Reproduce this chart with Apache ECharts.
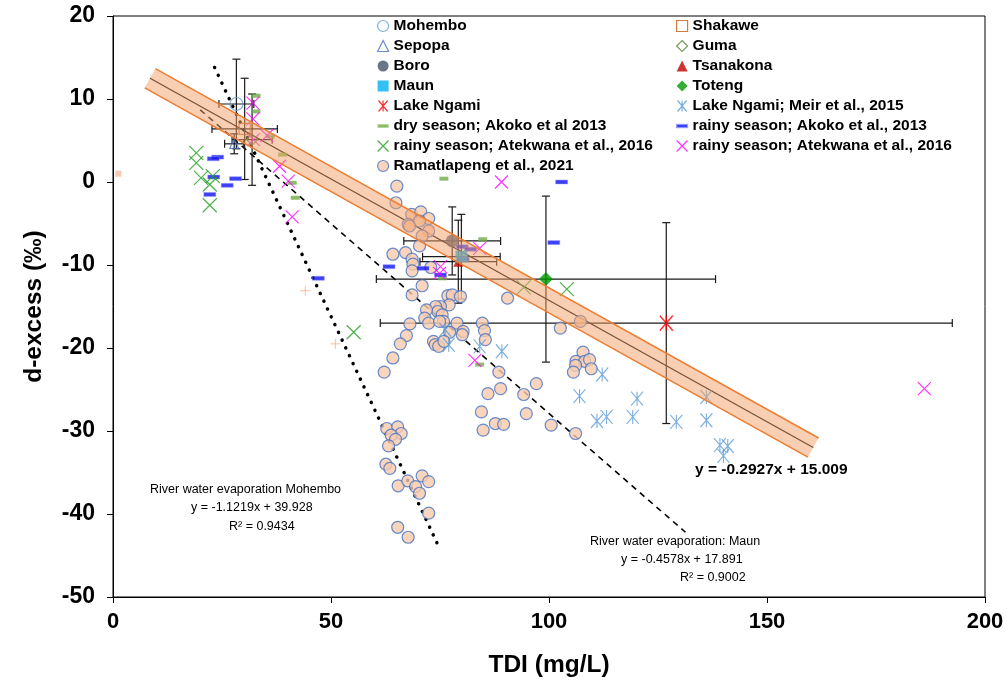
<!DOCTYPE html>
<html>
<head>
<meta charset="utf-8">
<title>d-excess vs TDI</title>
<script src="https://cdn.jsdelivr.net/npm/echarts@6/dist/echarts.min.js"></script>
<style>
html, body { margin: 0; padding: 0; background: #fff; }
#main { width: 1008px; height: 694px; }
</style>
</head>
<body>
<div id="main"></div>
<script>
// site means: [TDI, d-excess, TDI error, d-excess error]
var mohembo = [[28.3, 9.4, 4.0, 5.4]];
var sepopa = [[27.8, 4.6, 2.2, 1.2]];
var shakawe = [[30.2, 6.4, 7.5, 6.1]];
var guma = [[31.9, 5.1, 4.6, 5.5]];
var boro = [[77.8, -7.1, 11.1, 4.1]];
var tsanakona = [[79.2, -9.6, 8.8, 5.0]];
var maun = [[79.9, -9.0, 8.9, 5.1]];
var toteng = [[99.3, -11.7, 38.9, 10.0]];
var lakeNgami = [[126.9, -17.0, 65.6, 12.1]];

var meir2015 = [[76.2, -17.8], [77.0, -19.6], [84.1, -19.8], [89.2, -20.4], [112.2, -23.2],
  [107.0, -25.8], [120.2, -26.1], [111.0, -28.8], [113.2, -28.3], [119.2, -28.3],
  [129.2, -28.9], [136.1, -25.9], [136.1, -28.7], [139.2, -31.7], [141.0, -31.8], [140.0, -33.0]];

var dryAkoko = [[32.8, 10.4], [32.8, 8.5], [36.1, 5.5], [38.9, 3.3], [41.1, -0.1], [41.8, -1.9],
  [75.9, 0.4], [84.8, -6.9], [75.6, -11.6], [84.1, -22.0]];

var rainyAkoko = [[24.0, 3.0], [23.0, 2.8], [23.1, 0.6], [28.1, 0.4], [26.2, -0.4], [22.2, -1.5],
  [102.9, 0.0], [101.1, -7.3], [63.3, -10.2], [71.1, -10.4], [75.1, -11.2], [47.1, -11.6],
  [80.1, -7.8], [82.0, -8.1], [80.3, -9.3]];

var rainyAtekwanaGreen = [[19.1, 3.5], [19.1, 2.3], [20.2, 0.5], [22.9, 0.7], [22.2, -0.3], [22.2, -2.8],
  [55.2, -18.1], [94.2, -12.7], [104.1, -12.9]];

var rainyAtekwanaPink = [[32.1, 9.5], [32.1, 7.6], [35.3, 5.6], [32.2, 5.1], [38.2, 1.9], [40.2, 0.1],
  [41.1, -4.2], [89.1, 0.0], [84.1, -8.0], [75.1, -10.2], [74.9, -11.0], [83.0, -21.5], [186.1, -24.9]];

var ramatlapeng = [
  [65.1, -0.5], [64.9, -2.5], [68.5, -3.9], [70.6, -3.6], [72.4, -4.4], [70.3, -4.7], [67.7, -5.1],
  [68.0, -5.3], [72.4, -5.9], [70.9, -6.5], [70.3, -7.7], [64.2, -8.7], [67.1, -8.5], [68.6, -9.3],
  [68.8, -9.9], [68.6, -10.7], [72.9, -10.3], [70.9, -12.5], [68.6, -13.6], [76.8, -13.7],
  [77.8, -13.6], [79.7, -13.8], [77.1, -14.8], [75.1, -15.0], [74.0, -15.0], [74.5, -15.6],
  [90.5, -14.0], [71.9, -15.4], [71.5, -16.4], [72.4, -17.0], [68.1, -17.1], [75.5, -16.0],
  [75.8, -16.8], [74.9, -16.8], [78.9, -17.0], [80.3, -18.0], [80.1, -18.4], [77.2, -18.1],
  [84.7, -17.0], [85.2, -17.9], [85.4, -19.0], [67.3, -18.5], [73.5, -19.2], [73.9, -19.6],
  [74.7, -19.8], [75.9, -19.2], [65.9, -19.5], [64.2, -21.2], [62.2, -22.9], [88.5, -22.9],
  [88.9, -24.9], [86.0, -25.5], [84.5, -27.7], [84.9, -29.9], [87.7, -29.1], [89.6, -29.2],
  [62.8, -29.7], [65.3, -29.5], [66.1, -30.3], [63.8, -30.5], [64.8, -31.0], [63.2, -31.8],
  [62.6, -34.0], [63.5, -34.5], [65.4, -36.6], [67.6, -36.0], [69.4, -36.7], [70.9, -35.4],
  [72.4, -36.1], [70.3, -37.5], [72.4, -39.9], [65.3, -41.6], [67.7, -42.8],
  [102.6, -17.6], [107.2, -16.8], [107.8, -20.5], [106.2, -21.6], [108.2, -21.6], [109.3, -21.4],
  [106.1, -22.1], [105.6, -22.9], [109.7, -22.5], [97.1, -24.3], [94.2, -25.6], [94.8, -27.9],
  [100.5, -29.3], [106.1, -30.3]];

// two stray points without a legend entry
var otherPlus = [[44.1, -13.1], [51.0, -19.5]];
var otherSquare = [[1.2, 1.0]];

// trend lines, end points
var fitLine = [[8.5, 12.5], [160.6, -32.0]];
var mohemboLine = [[23.3, 13.8], [74.5, -43.7]];
var maunLine = [[20.0, 8.7], [131.3, -42.2]];

var xTicks = { min: 0, max: 200, step: 50 };
var yTicks = { min: -50, max: 20, step: 10 };

var FONT = 'Liberation Sans, Arial, sans-serif';
var crossPath = 'path://M0,0L10,10M10,0L0,10';
var starPath = 'path://M0,0L10,12M10,0L0,12M5,0L5,12';
var plusPath = 'path://M5,0L5,10M0,5L10,5';
var dashIcon = 'path://M0,0M10,10M0,3.5h10v3h-10z';

var chart = echarts.init(document.getElementById('main'));

function renderErrorBar(params, api) {
  var x = api.value(0), y = api.value(1), ex = api.value(2), ey = api.value(3);
  var l = api.coord([x - ex, y]);
  var r = api.coord([x + ex, y]);
  var t = api.coord([x, y + ey]);
  var b = api.coord([x, y - ey]);
  var cap = 4;
  var st = { stroke: '#1a1a1a', lineWidth: 1.2 };
  function seg(x1, y1, x2, y2) {
    return { type: 'line', shape: { x1: x1, y1: y1, x2: x2, y2: y2 }, style: st };
  }
  return {
    type: 'group',
    children: [
      seg(l[0], l[1], r[0], r[1]),
      seg(l[0], l[1] - cap, l[0], l[1] + cap),
      seg(r[0], r[1] - cap, r[0], r[1] + cap),
      seg(t[0], t[1], b[0], b[1]),
      seg(t[0] - cap, t[1], t[0] + cap, t[1]),
      seg(b[0] - cap, b[1], b[0] + cap, b[1])
    ]
  };
}

// shaded band around the main fit, ends square to the line
function renderBand(params, api) {
  var a = api.coord([api.value(0), api.value(1)]);
  var b = api.coord([api.value(2), api.value(3)]);
  var dx = b[0] - a[0], dy = b[1] - a[1];
  var len = Math.sqrt(dx * dx + dy * dy);
  var h = 11;
  var nx = -dy / len * h, ny = dx / len * h;
  var p1 = [a[0] + nx, a[1] + ny], p2 = [b[0] + nx, b[1] + ny];
  var p3 = [b[0] - nx, b[1] - ny], p4 = [a[0] - nx, a[1] - ny];
  var edge = { stroke: '#ED7D31', lineWidth: 1.5 };
  return {
    type: 'group',
    children: [
      { type: 'polygon', shape: { points: [p1, p2, p3, p4] }, style: { fill: 'rgba(244,160,105,0.5)' } },
      { type: 'line', shape: { x1: p1[0], y1: p1[1], x2: p2[0], y2: p2[1] }, style: edge },
      { type: 'line', shape: { x1: p4[0], y1: p4[1], x2: p3[0], y2: p3[1] }, style: edge }
    ]
  };
}

function site(name, data, symbol, size, style) {
  return { name: name, type: 'scatter', data: data, symbol: symbol, symbolSize: size, itemStyle: style, z: 4 };
}

var legendText = { fontSize: 15.5, fontWeight: 'bold', color: '#000', fontFamily: FONT, lineHeight: 16 };

option = {
  animation: false,
  backgroundColor: '#fff',
  grid: { left: 113, right: 23, top: 16, bottom: 97, show: true, borderColor: '#000', borderWidth: 1 },
  legend: [{
    orient: 'vertical', left: 372, top: 13, itemWidth: 11, itemHeight: 11, itemGap: 4,
    selectedMode: false, textStyle: legendText, itemStyle: { borderWidth: 1.2 },
    data: ['Mohembo', 'Sepopa', 'Boro', 'Maun', 'Lake Ngami',
      { name: 'dry season; Akoko et al 2013', icon: dashIcon },
      'rainy season; Atekwana et al., 2016', 'Ramatlapeng et al., 2021']
  }, {
    orient: 'vertical', left: 671, top: 13, itemWidth: 11, itemHeight: 11, itemGap: 4,
    selectedMode: false, textStyle: legendText, itemStyle: { borderWidth: 1.2 },
    data: ['Shakawe', 'Guma', 'Tsanakona', 'Toteng', 'Lake Ngami; Meir et al., 2015',
      { name: 'rainy season; Akoko et al., 2013', icon: dashIcon },
      'rainy season; Atekwana et al., 2016 ']
  }],
  xAxis: {
    type: 'value', min: xTicks.min, max: xTicks.max, interval: xTicks.step,
    name: 'TDI (mg/L)', nameLocation: 'middle', nameGap: 56,
    nameTextStyle: { fontSize: 24.5, fontWeight: 'bold', color: '#000', fontFamily: FONT },
    axisLine: { onZero: false, lineStyle: { color: '#000', width: 1 } },
    axisTick: { length: 6, lineStyle: { color: '#000' } },
    axisLabel: { fontSize: 22, fontWeight: 'bold', color: '#000', fontFamily: FONT, margin: 14 },
    splitLine: { show: false }
  },
  yAxis: {
    type: 'value', min: yTicks.min, max: yTicks.max, interval: yTicks.step,
    name: 'd-excess (‰)', nameLocation: 'middle', nameGap: 66, nameRotate: 90,
    nameTextStyle: { fontSize: 24.5, fontWeight: 'bold', color: '#000', fontFamily: FONT },
    axisLine: { onZero: false, lineStyle: { color: '#000', width: 1 } },
    axisTick: { length: 6, lineStyle: { color: '#000' } },
    axisLabel: { fontSize: 23, fontWeight: 'bold', color: '#000', fontFamily: FONT, margin: 18 },
    splitLine: { show: false }
  },
  series: [
    {
      name: 'errorbars', type: 'custom', renderItem: renderErrorBar, z: 3, silent: true,
      data: [].concat(mohembo, sepopa, shakawe, guma, boro, tsanakona, maun, toteng, lakeNgami)
    },
    { name: 'mohembo fit', type: 'line', data: mohemboLine, symbol: 'none', z: 2, silent: true,
      lineStyle: { color: '#000', width: 3.5, type: [0.1, 8.5], cap: 'round' } },
    { name: 'maun fit', type: 'line', data: maunLine, symbol: 'none', z: 2, silent: true,
      lineStyle: { color: '#000', width: 1.6, type: [6, 5] } },
    { name: 'all fit', type: 'line', data: fitLine, symbol: 'none', z: 2, silent: true,
      lineStyle: { color: '#000', width: 1.2 } },

    site('Ramatlapeng et al., 2021', ramatlapeng, 'circle', 12,
      { color: '#F8CBAD', borderColor: '#4472C4', borderWidth: 1.2 }),
    site('Lake Ngami; Meir et al., 2015', meir2015, starPath, [12, 14],
      { color: 'rgba(0,0,0,0)', borderColor: '#5B9BD5', borderWidth: 1.2 }),
    site('dry season; Akoko et al 2013', dryAkoko, 'rect', [9, 4], { color: '#70AD47' }),
    site('rainy season; Akoko et al., 2013', rainyAkoko, 'rect', [12, 4],
      { color: '#1010F0', borderColor: '#8f9cff', borderWidth: 0.5 }),
    site('rainy season; Atekwana et al., 2016', rainyAtekwanaGreen, crossPath, 14,
      { color: 'rgba(0,0,0,0)', borderColor: '#1E9E1E', borderWidth: 1.2 }),
    site('rainy season; Atekwana et al., 2016 ', rainyAtekwanaPink, crossPath, 13,
      { color: 'rgba(0,0,0,0)', borderColor: '#FF00FF', borderWidth: 1.2 }),
    { name: 'other plus', type: 'scatter', data: otherPlus, symbol: plusPath, symbolSize: 10, z: 4,
      itemStyle: { color: 'rgba(0,0,0,0)', borderColor: '#F4B183', borderWidth: 1 } },
    { name: 'other square', type: 'scatter', data: otherSquare, symbol: 'rect', symbolSize: 6, z: 4,
      itemStyle: { color: '#F4B9A0' } },

    site('Mohembo', mohembo, 'circle', 13, { color: 'rgba(0,0,0,0)', borderColor: '#5B9BD5', borderWidth: 1.2 }),
    site('Sepopa', sepopa, 'triangle', 9, { color: 'rgba(0,0,0,0)', borderColor: '#4472C4', borderWidth: 1.2 }),
    site('Shakawe', shakawe, 'rect', 11, { color: 'rgba(0,0,0,0)', borderColor: '#C55A11', borderWidth: 1.2 }),
    site('Guma', guma, 'diamond', 11, { color: 'rgba(0,0,0,0)', borderColor: '#548235', borderWidth: 1.2 }),
    site('Boro', boro, 'circle', 13, { color: '#44546A' }),
    site('Tsanakona', tsanakona, 'triangle', 10, { color: '#C00000' }),
    site('Maun', maun, 'rect', 12, { color: '#00B0F0' }),
    site('Toteng', toteng, 'diamond', 14, { color: '#009A00' }),
    site('Lake Ngami', lakeNgami, starPath, [13, 15], { color: 'rgba(0,0,0,0)', borderColor: '#FF0000', borderWidth: 1.4 }),

    {
      name: 'band', type: 'custom', renderItem: renderBand, z: 6, silent: true,
      data: [fitLine[0].concat(fitLine[1])]
    }
  ],
  graphic: [
    { type: 'text', left: 150, top: 483, z: 100, style: { text: 'River water evaporation Mohembo', fontSize: 12.5, fontFamily: FONT, fill: '#000' } },
    { type: 'text', left: 191, top: 501, z: 100, style: { text: 'y = -1.1219x + 39.928', fontSize: 12.5, fontFamily: FONT, fill: '#000' } },
    { type: 'text', left: 229, top: 520, z: 100, style: { text: 'R² = 0.9434', fontSize: 12.5, fontFamily: FONT, fill: '#000' } },
    { type: 'text', left: 590, top: 535, z: 100, style: { text: 'River water evaporation: Maun', fontSize: 12.5, fontFamily: FONT, fill: '#000' } },
    { type: 'text', left: 621, top: 553, z: 100, style: { text: 'y = -0.4578x + 17.891', fontSize: 12.5, fontFamily: FONT, fill: '#000' } },
    { type: 'text', left: 680, top: 571, z: 100, style: { text: 'R² = 0.9002', fontSize: 12.5, fontFamily: FONT, fill: '#000' } },
    { type: 'text', left: 695, top: 462, z: 100, style: { text: 'y = -0.2927x + 15.009', fontSize: 15.5, fontWeight: 'bold', fontFamily: FONT, fill: '#000' } }
  ]
};

chart.setOption(option);
</script>
</body>
</html>
